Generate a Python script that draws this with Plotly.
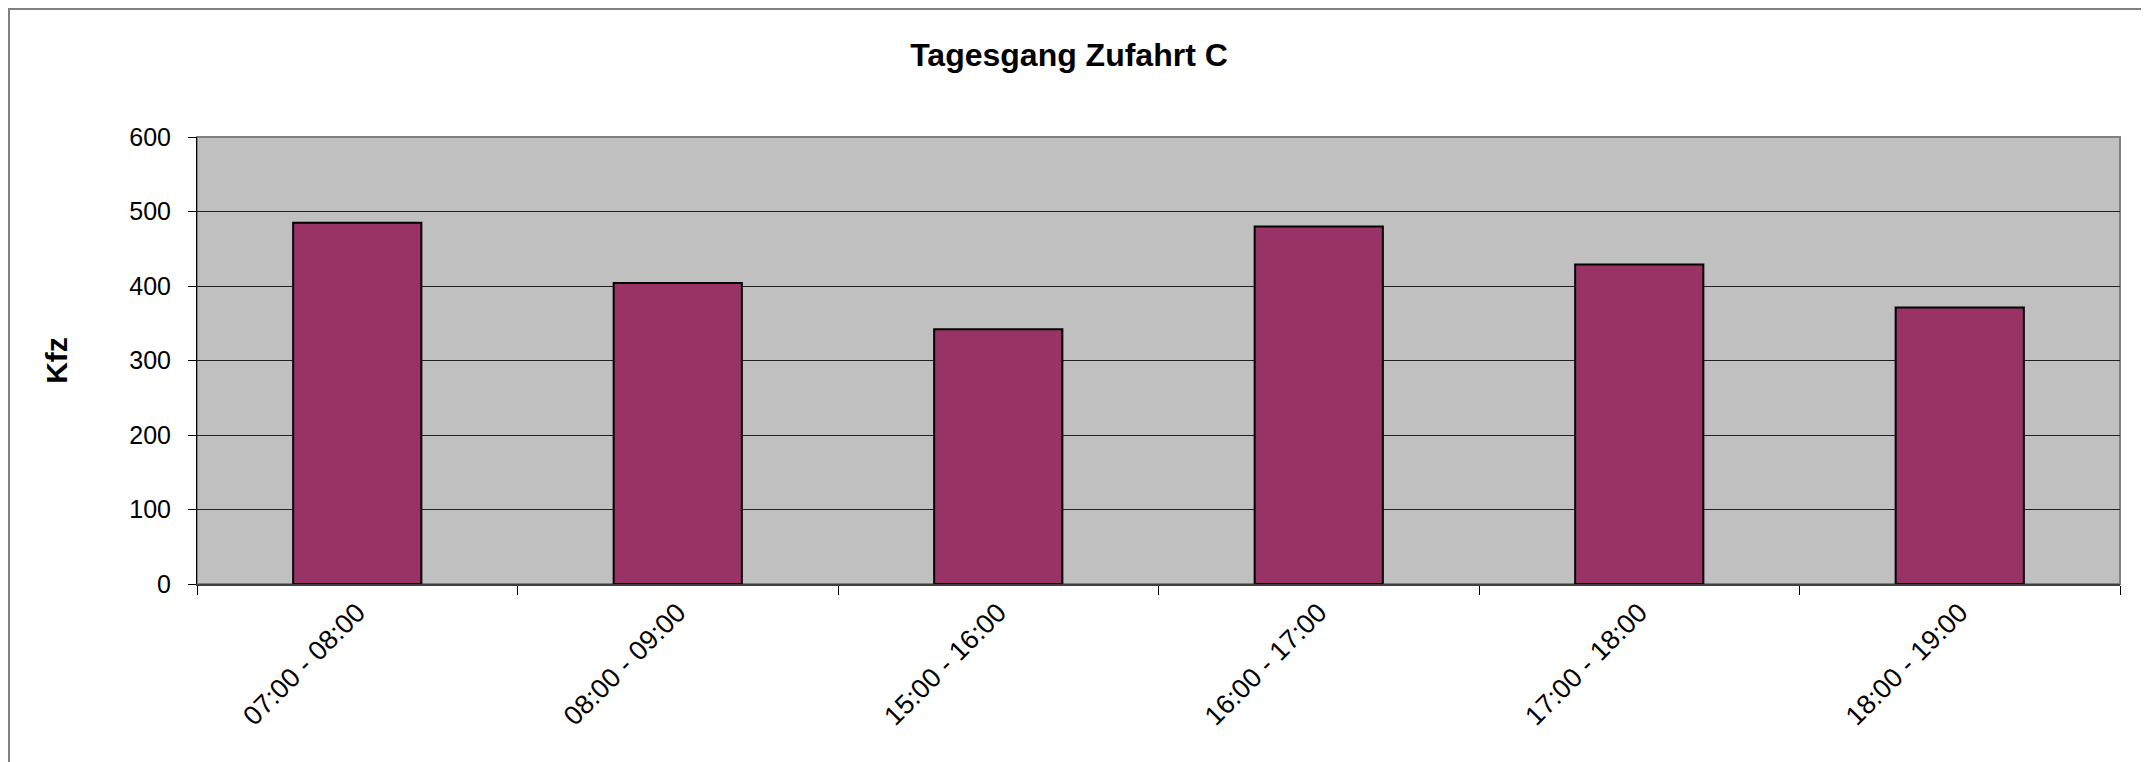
import plotly.graph_objects as go

categories = ["07:00 - 08:00", "08:00 - 09:00", "15:00 - 16:00",
              "16:00 - 17:00", "17:00 - 18:00", "18:00 - 19:00"]
kfz = [485, 404, 342, 480, 429, 371]
y_ticks = [0, 100, 200, 300, 400, 500, 600]

W, H = 2149, 762
OFF = 8  # default page body margin
L, T = 197 - OFF, 137 - OFF
pw, ph = 1923, 447
R, B = W - L - pw, H - T - ph

font_family = "Arial, Liberation Sans, sans-serif"

fig = go.Figure()
fig.add_trace(go.Bar(
    x=categories, y=kfz,
    marker=dict(color="#993366", line=dict(color="#000000", width=2)),
    width=0.4,
    showlegend=False,
))

fig.update_layout(
    width=W, height=H,
    margin=dict(l=L, r=R, t=T, b=B, pad=0),
    paper_bgcolor="#FFFFFF",
    plot_bgcolor="#C0C0C0",
    font=dict(family=font_family, size=25, color="#000000"),
    title=dict(text="<b>Tagesgang Zufahrt C</b>", x=(1069 - OFF) / W, xref="container",
               y=1 - (55 - OFF) / H, yref="container", yanchor="middle", xanchor="center",
               font=dict(family=font_family, size=32, color="#000000")),
    xaxis=dict(
        type="category", tickangle=-45, tickson="boundaries",
        ticks="outside", ticklen=9, tickcolor="#000000", tickwidth=1,
        showline=True, linecolor="#404040", linewidth=2,
        showgrid=False, zeroline=False,
        tickfont=dict(family=font_family, size=27, color="#000000"),
    ),
    yaxis=dict(
        range=[0, 600], tickvals=y_ticks, ticktext=[str(v) for v in y_ticks],
        ticks="outside", ticklen=8, tickcolor="#000000", tickwidth=1,
        ticklabelstandoff=12,
        showline=True, linecolor="#000000", linewidth=1,
        showgrid=True, gridcolor="#202020", gridwidth=1.2,
        zeroline=False,
        title=dict(text="<b>Kfz</b>", standoff=52,
                   font=dict(family=font_family, size=30, color="#000000")),
        tickfont=dict(family=font_family, size=25, color="#000000"),
    ),
)

# plot area border (grey)
fig.add_shape(type="rect", xref="paper", yref="paper", x0=0, y0=0, x1=1, y1=1,
              line=dict(color="#808080", width=2), layer="below")
# outer chart border
fig.add_shape(type="rect", xref="paper", yref="paper",
              x0=(1 - L) / pw, x1=(W + 20 - L) / pw,
              y0=1 + (T - 1) / ph, y1=-(B + 20) / ph,
              line=dict(color="#808080", width=2), layer="above")

fig.write_html("out.html")
